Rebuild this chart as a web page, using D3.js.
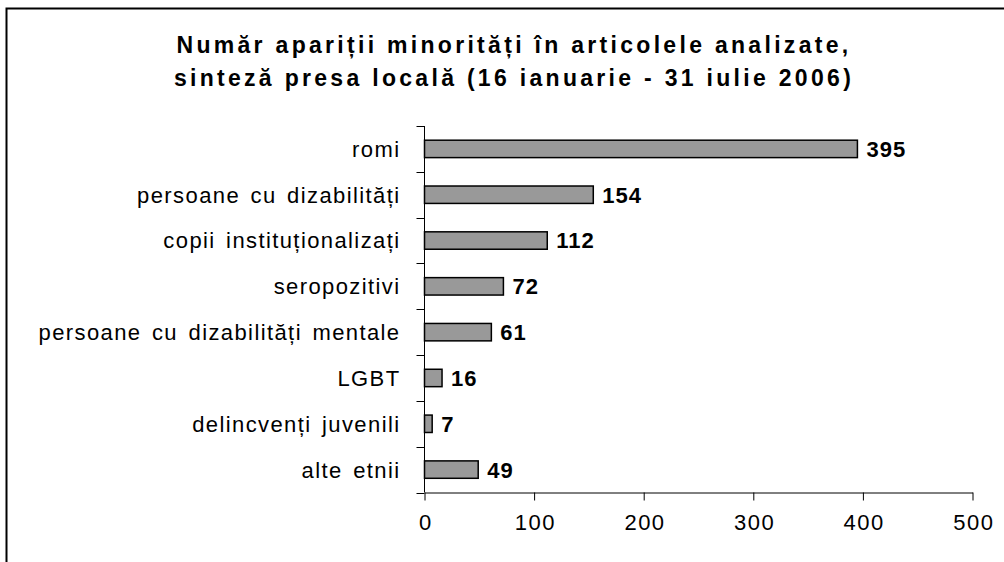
<!DOCTYPE html>
<html>
<head>
<meta charset="utf-8">
<script src="https://cdn.jsdelivr.net/npm/d3@7"></script>
<style>
  body { margin: 0; background: #fff; }
  svg { display: block; font-family: "Liberation Sans", Arial, sans-serif; }
</style>
</head>
<body>
<svg id="chart" width="1004" height="562"></svg>
<script>
const categories = [
  "romi",
  "persoane cu dizabilități",
  "copii instituționalizați",
  "seropozitivi",
  "persoane cu dizabilități mentale",
  "LGBT",
  "delincvenți juvenili",
  "alte etnii"
];
const values = [395, 154, 112, 72, 61, 16, 7, 49];
const xTicks = [0, 100, 200, 300, 400, 500];
const titleLines = [
  "Număr apariții minorități în articolele analizate,",
  "sinteză presa locală (16 ianuarie - 31 iulie 2006)"
];

const svg = d3.select("#chart");

// cadru (doar sus si stanga se vad)
svg.append("path")
  .attr("d", "M6.5,562 L6.5,8.5 L1004,8.5")
  .attr("fill", "none")
  .attr("stroke", "#000")
  .attr("stroke-width", 2);

const plotLeft = 424.5, plotRight = 972.5, plotTop = 126, plotBottom = 492.5;

const x = d3.scaleLinear().domain([0, 500]).range([plotLeft, plotRight]);
const y = d3.scaleBand().domain(categories).range([plotTop, plotBottom]).paddingInner(0.62).paddingOuter(0.31);

// titlu (textul din original e spatiat)
svg.append("g").selectAll("text")
  .data(titleLines)
  .join("text")
  .attr("x", 514)
  .attr("y", (d, i) => 53 + i * 33)
  .attr("text-anchor", "middle")
  .style("font-size", "23px")
  .style("font-weight", "bold")
  .style("letter-spacing", "3.3px")
  .text(d => d);

// bare
svg.append("g").selectAll("rect")
  .data(values)
  .join("rect")
  .attr("x", x(0))
  .attr("y", (d, i) => y(categories[i]))
  .attr("width", d => x(d) - x(0))
  .attr("height", y.bandwidth())
  .attr("fill", "#999999")
  .attr("stroke", "#000")
  .attr("stroke-width", 1.5);

// etichete valori
svg.append("g").selectAll("text")
  .data(values)
  .join("text")
  .attr("x", d => x(d) + 9)
  .attr("y", (d, i) => y(categories[i]) + y.bandwidth() / 2)
  .attr("dy", "0.36em")
  .style("font-size", "22px")
  .style("font-weight", "bold")
  .style("letter-spacing", "1px")
  .text(d => d);

// axa Y (tick-uri intre categorii)
const yBounds = d3.range(categories.length + 1).map(i => plotTop + i * (plotBottom - plotTop) / categories.length);
const gy = svg.append("g");
gy.append("line")
  .attr("x1", plotLeft).attr("x2", plotLeft)
  .attr("y1", plotTop).attr("y2", plotBottom)
  .attr("stroke", "#000");
gy.selectAll("line.tick")
  .data(yBounds)
  .join("line")
  .attr("class", "tick")
  .attr("x1", plotLeft - 8).attr("x2", plotLeft)
  .attr("y1", d => Math.round(d) + 0.5).attr("y2", d => Math.round(d) + 0.5)
  .attr("stroke", "#000");
gy.selectAll("text")
  .data(categories)
  .join("text")
  .attr("x", plotLeft - 24)
  .attr("y", d => y(d) + y.bandwidth() / 2)
  .attr("dy", "0.36em")
  .attr("text-anchor", "end")
  .style("font-size", "22px")
  .style("letter-spacing", "1.4px")
  .style("word-spacing", "3px")
  .text(d => d);

// axa X
const gx = svg.append("g").attr("transform", `translate(0,${plotBottom})`)
  .call(d3.axisBottom(x).tickValues(xTicks).tickSize(8).tickSizeOuter(0).tickPadding(14));
gx.select(".domain").attr("stroke", "#000");
gx.selectAll(".tick line").attr("stroke", "#000");
gx.selectAll(".tick text")
  .attr("fill", "#000")
  .attr("dx", "0.8px")
  .style("font-size", "22px")
  .style("letter-spacing", "1.5px")
  .style("font-family", "'Liberation Sans', Arial, sans-serif");
</script>
</body>
</html>
